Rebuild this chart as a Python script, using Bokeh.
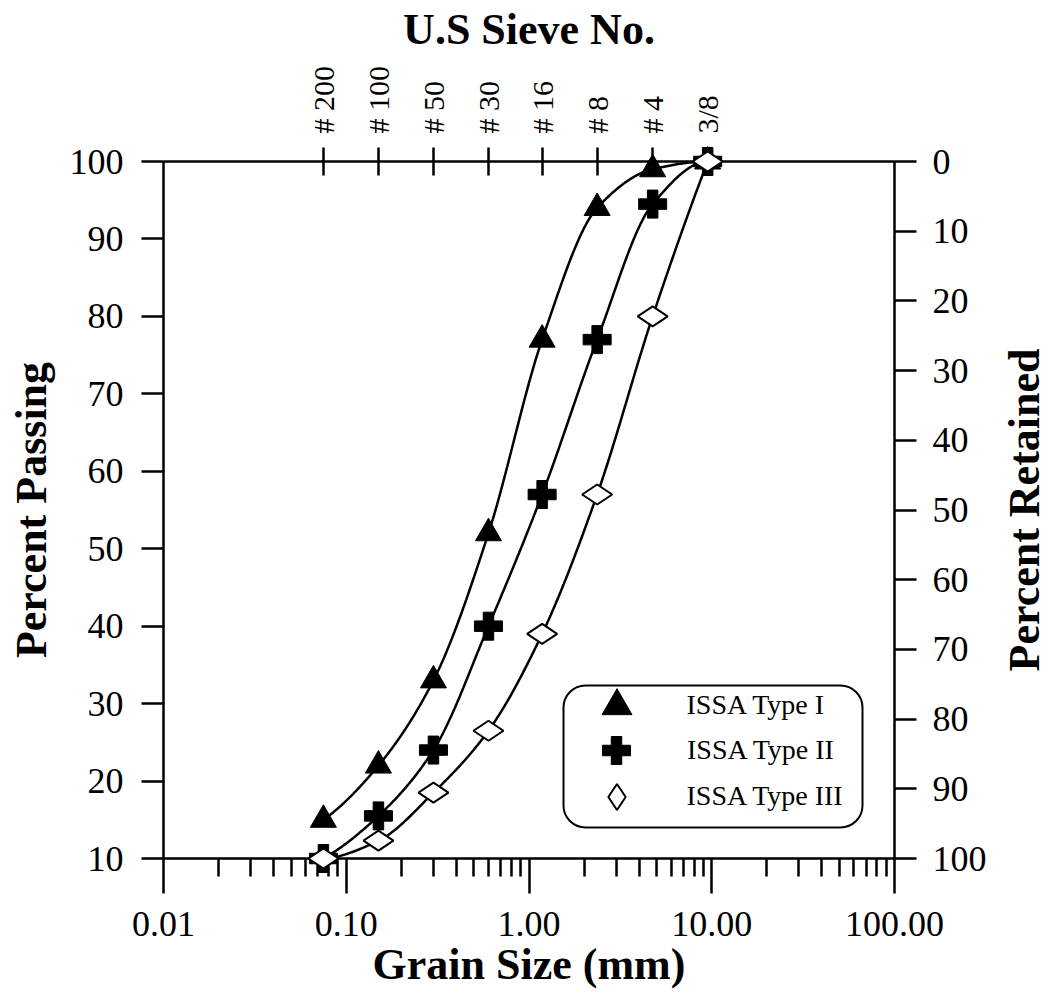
import math
import numpy as np
from bokeh.plotting import figure
from bokeh.core.properties import value
from bokeh.models import (LogAxis, LinearAxis, Range1d, FixedTicker, CustomJSTickFormatter,
                          PrintfTickFormatter, Legend, LegendItem, BoxAnnotation)
from bokeh.embed import file_html
from bokeh.resources import INLINE

# Sieve openings (mm) and their U.S. sieve designations
sieve_mm = [0.075, 0.15, 0.30, 0.60, 1.18, 2.36, 4.75, 9.5]
sieve_names = ["# 200", "# 100", "# 50", "# 30", "# 16", "# 8", "# 4", "3/8"]

# Percent passing for each gradation
type1 = [15, 22, 33, 52, 77, 94, 99, 100]
type2 = [10, 15.5, 24, 40, 57, 77, 94.5, 100]
type3 = [10, 12.3, 18.5, 26.5, 39, 57, 80, 100]
series_names = ["ISSA Type I", "ISSA Type II", "ISSA Type III"]

passing_ticks = [10, 20, 30, 40, 50, 60, 70, 80, 90, 100]
retained_ticks = [0, 10, 20, 30, 40, 50, 60, 70, 80, 90, 100]
grain_ticks = [0.01, 0.1, 1, 10, 100]
grain_minor = [m * d for d in [0.01, 0.1, 1, 10] for m in range(2, 10)]

FONT = "Liberation Serif"


def pchip(xk, yk, xs):
    """Monotone cubic (Fritsch-Carlson) curve through the measured points."""
    xk = np.asarray(xk, float)
    yk = np.asarray(yk, float)
    h = np.diff(xk)
    d = np.diff(yk) / h
    n = len(xk)
    m = np.zeros(n)
    for k in range(1, n - 1):
        if d[k - 1] * d[k] > 0:
            w1 = 2 * h[k] + h[k - 1]
            w2 = h[k] + 2 * h[k - 1]
            m[k] = (w1 + w2) / (w1 / d[k - 1] + w2 / d[k])

    def end(h0, h1, d0, d1):
        mm = ((2 * h0 + h1) * d0 - h0 * d1) / (h0 + h1)
        if np.sign(mm) != np.sign(d0):
            return 0.0
        if np.sign(d0) != np.sign(d1) and abs(mm) > abs(3 * d0):
            return 3 * d0
        return mm

    m[0] = end(h[0], h[1], d[0], d[1])
    m[-1] = end(h[-1], h[-2], d[-1], d[-2])
    idx = np.clip(np.searchsorted(xk, xs) - 1, 0, n - 2)
    t = (xs - xk[idx]) / h[idx]
    h00 = 2 * t**3 - 3 * t**2 + 1
    h10 = t**3 - 2 * t**2 + t
    h01 = -2 * t**3 + 3 * t**2
    h11 = t**3 - t**2
    return (h00 * yk[idx] + h10 * h[idx] * m[idx]
            + h01 * yk[idx + 1] + h11 * h[idx] * m[idx + 1])


p = figure(frame_width=731, frame_height=697,
           x_axis_type="log", x_range=Range1d(0.01, 100), y_range=Range1d(10, 100),
           x_axis_location=None, y_axis_location=None,
           output_backend="svg", toolbar_location=None,
           min_border_left=163, min_border_right=157,
           min_border_top=161, min_border_bottom=144)
p.outline_line_color = None
p.background_fill_color = "white"
p.border_fill_color = "white"
p.grid.visible = False
p.extra_y_ranges = {"ret": Range1d(start=100, end=0)}


def style(ax, tick_out, tick_in=0, label_size="36px", standoff=12, title_standoff=10):
    ax.axis_line_color = "black"
    ax.axis_line_width = 2.5
    ax.major_tick_line_color = "black"
    ax.major_tick_line_width = 2.5
    ax.major_tick_out = tick_out
    ax.major_tick_in = tick_in
    ax.minor_tick_out = 0
    ax.minor_tick_in = 0
    ax.major_label_text_font = FONT
    ax.major_label_text_font_size = label_size
    ax.major_label_text_color = "black"
    ax.major_label_standoff = standoff
    ax.axis_label_text_font = FONT
    ax.axis_label_text_font_style = "bold"
    ax.axis_label_text_font_size = "44px"
    ax.axis_label_text_color = "black"
    ax.axis_label_standoff = title_standoff


bottom = LogAxis(ticker=FixedTicker(ticks=grain_ticks, minor_ticks=grain_minor),
                 formatter=PrintfTickFormatter(format="%.2f"),
                 axis_label="Grain Size (mm)")
style(bottom, 35, standoff=18, title_standoff=1)
bottom.minor_tick_out = 18
bottom.minor_tick_line_color = "black"
bottom.minor_tick_line_width = 2.5
p.add_layout(bottom, "below")

top = LogAxis(ticker=FixedTicker(ticks=sieve_mm),
              formatter=CustomJSTickFormatter(args=dict(names=sieve_names),
                                              code="return names[index]"),
              axis_label="U.S Sieve No.")
style(top, 14, tick_in=14, label_size="30px", standoff=14, title_standoff=9)
top.major_label_orientation = math.pi / 2
p.add_layout(top, "above")

left = LinearAxis(ticker=FixedTicker(ticks=passing_ticks), axis_label="Percent Passing")
style(left, 22, standoff=18, title_standoff=11)
p.add_layout(left, "left")

right = LinearAxis(y_range_name="ret", ticker=FixedTicker(ticks=retained_ticks))
style(right, 22, standoff=16)
p.add_layout(right, "right")

# Right-hand title, reading bottom to top like the left one; anchored on the
# frame's right edge and pushed out past the tick labels
title_r = p.text(x=[p.x_range.end], y=[(p.y_range.start + p.y_range.end) / 2],
                 text=["Percent Retained"], angle=math.pi / 2, x_offset=130,
                 text_align="center", text_baseline="middle",
                 text_font=value(FONT), text_font_style="bold",
                 text_font_size="44px", text_color="black")
title_r.level = "overlay"

# Smooth gradation curves drawn in log-size space
lx = np.log10(sieve_mm)
xs = np.linspace(lx[0], lx[-1], 300)
curve_x = 10 ** xs

for vals in (type1, type2, type3):
    r = p.line(curve_x, pchip(lx, vals, xs), line_color="black", line_width=2.5)
    r.level = "overlay"

r1 = p.scatter(sieve_mm, type1, marker="triangle", size=26,
               fill_color="black", line_color="black", line_width=1)
r2 = p.scatter(sieve_mm, type2, marker="plus", size=28,
               fill_color="black", line_color="black", line_width=1)
r3 = p.scatter(sieve_mm, type3, marker="diamond", size=30, angle=math.pi / 2,
               fill_color="white", line_color="black", line_width=2)
for r in (r1, r2, r3):
    r.level = "overlay"

# Legend frame: rounded box, in pixels from the plot frame's lower-left corner
box = BoxAnnotation(left=400, right=699, bottom=31, top=173,
                    left_units="screen", right_units="screen",
                    bottom_units="screen", top_units="screen",
                    fill_color="white", fill_alpha=1.0,
                    line_color="black", line_alpha=1.0, line_width=2)
if "border_radius" in BoxAnnotation.properties():
    box.border_radius = 22
p.add_layout(box)

# One borderless legend row per series so each key can be drawn at full size
key_x = 453          # key centre, px from frame left
text_x = 524         # label start, px from frame left
row_y = [153, 108, 62]   # row centres, px from frame bottom
key_sizes = [30, 28, 26]
for name, r, ky, ks in zip(series_names, [r1, r2, r3], row_y, key_sizes):
    g = int(round(ks / 0.4))
    lg = Legend(items=[LegendItem(label=name, renderers=[r])],
                location=(key_x - g / 2, ky - g / 2), orientation="vertical",
                glyph_width=g, glyph_height=g, spacing=0, padding=0, margin=0,
                label_standoff=int(text_x - (key_x + g / 2)),
                label_text_font=FONT, label_text_font_size="28px",
                label_text_color="black",
                border_line_alpha=0, background_fill_alpha=0)
    p.add_layout(lg, "center")

open("out.html", "w").write(file_html(p, INLINE))
